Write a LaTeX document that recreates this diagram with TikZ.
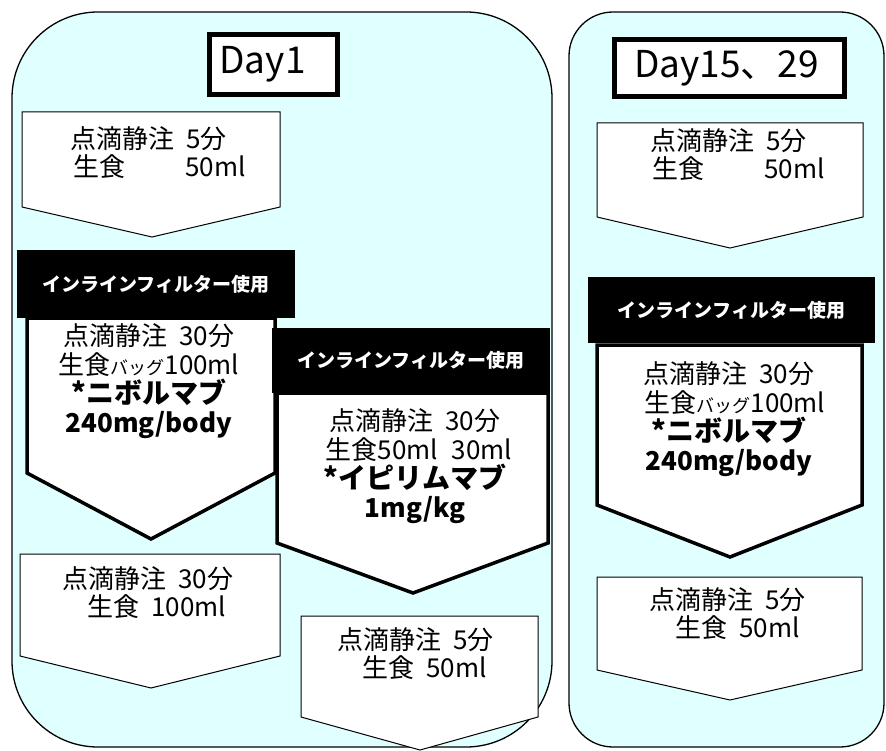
\documentclass[tikz,border=0pt]{standalone}
\usepackage{fontspec}
\setmainfont{Noto Sans CJK JP}
\definecolor{lcyan}{RGB}{224,255,255}

\begin{document}
\begin{tikzpicture}[x=1pt, y=-1pt,
    panel/.style={draw, line width=1.3pt, fill=lcyan},
    thinflow/.style={draw, line width=1pt, fill=white},
    thickflow/.style={draw, line width=3.5pt, fill=white},
    filter/.style={fill=black, text=white, inner sep=0pt, font=\bfseries\fontsize{19}{19}\selectfont},
    daylabel/.style={draw, line width=5pt, fill=white, inner sep=0pt, font=\fontsize{37}{37}\selectfont},
    note/.style={inner sep=0pt, font=\fontsize{26}{28}\selectfont},
    dose/.style={inner sep=0pt, font=\fontsize{26}{29}\selectfont, align=center},
]
    \useasboundingbox (0,0) rectangle (886,751);

    % day panels
    \draw[panel, rounded corners=86pt] (12,12) rectangle (552,747);
    \draw[panel, rounded corners=44pt] (569,12) rectangle (884,747);

    \node[daylabel, minimum width=128pt, minimum height=60pt] (day1)  at (273.5,64.5) {Day1\hspace*{22pt}};
    \node[daylabel, minimum width=230pt, minimum height=57pt] (day15) at (729.5,68)   {Day15、29\hspace*{6pt}};

    % Day1, nivolumab line
    \draw[thinflow]  (22,112) -- (280,112) -- (280,207) -- (152,237) -- (22,207) -- cycle;
    \draw[thickflow] (27,318) -- (275,318) -- (275,473) -- (151,539) -- (27,473) -- cycle;
    \draw[thinflow]  (20,554) -- (280,554) -- (280,656) -- (151,688) -- (20,656) -- cycle;
    \node[filter, minimum width=278pt, minimum height=68pt] (filt1) at (156,284) {インラインフィルター使用};

    % Day1, ipilimumab line
    \draw[thickflow] (277,393) -- (548,393) -- (548,543) -- (413,593) -- (277,543) -- cycle;
    \draw[thinflow]  (301,616) -- (538,616) -- (538,717) -- (420,750) -- (301,717) -- cycle;
    \node[filter, minimum width=278pt, minimum height=65pt] (filt2) at (411,360.5) {インラインフィルター使用};

    % Day15, 29
    \draw[thinflow]  (597,123) -- (863,123) -- (863,217) -- (730,248) -- (597,217) -- cycle;
    \draw[thickflow] (597,345) -- (862,345) -- (862,505) -- (730,557) -- (597,505) -- cycle;
    \draw[thinflow]  (597,577) -- (862,577) -- (862,670) -- (730,700) -- (597,670) -- cycle;
    \node[filter, minimum width=287pt, minimum height=66pt] (filt3) at (731.5,310) {インラインフィルター使用};

    \node[note, align=left, anchor=west] (pre1) at (70,153)
        {点滴静注\hspace*{12pt}5分\\\hspace*{3pt}生食\hspace*{60pt}50ml};
    \node[dose] (nivo1) at (149,381.5)
        {点滴静注\hspace*{12pt}30分\\生食{\fontsize{18}{29}\selectfont バッグ}100ml\\
         {\bfseries\fontsize{28}{29}\selectfont *ニボルマブ}\\{\bfseries 240mg/body}};
    \node[note, align=left, anchor=west] (post1) at (62,592.5)
        {点滴静注\hspace*{12pt}30分\\\hspace*{25pt}生食\hspace*{12pt}100ml};

    \node[dose] (ipi1) at (415,466.5)
        {点滴静注\hspace*{12pt}30分\\\hspace*{8pt}生食50ml\hspace*{14pt}30ml\\
         {\bfseries\fontsize{28}{29}\selectfont *イピリムマブ}\\{\bfseries 1mg/kg}};
    \node[note, align=left, anchor=west] (post2) at (337,654)
        {点滴静注\hspace*{12pt}5分\\\hspace*{25pt}生食\hspace*{12pt}50ml};

    \node[note, align=left, anchor=west] (pre15) at (650,155)
        {点滴静注\hspace*{12pt}5分\\\hspace*{2pt}生食\hspace*{60pt}50ml};
    \node[dose] (nivo15) at (729,419)
        {点滴静注\hspace*{12pt}30分\\\hspace*{12pt}生食{\fontsize{18}{29}\selectfont バッグ}100ml\\
         {\bfseries\fontsize{28}{29}\selectfont *ニボルマブ}\\{\bfseries 240mg/body}};
    \node[note, align=left, anchor=west] (post15) at (649,613.5)
        {点滴静注\hspace*{12pt}5分\\\hspace*{26pt}生食\hspace*{12pt}50ml};
\end{tikzpicture}
\end{document}
